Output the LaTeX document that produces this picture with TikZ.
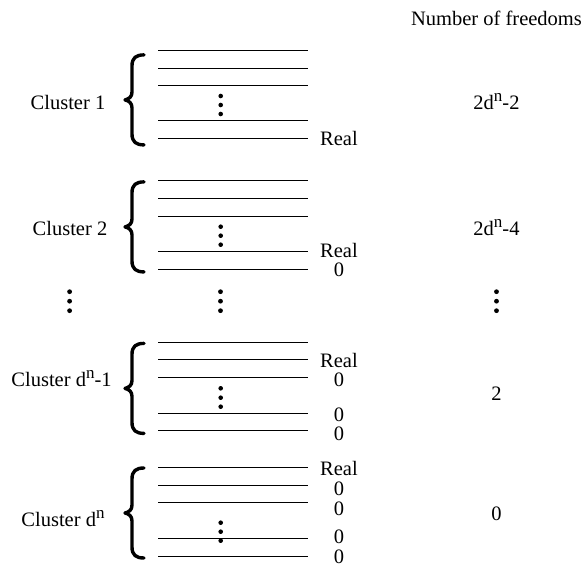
\documentclass[tikz,border=0pt]{standalone}
\usepackage{fontspec}
\setmainfont{Liberation Serif}
\newcommand\supn{\raisebox{8pt}{\fontsize{17}{17}\selectfont n}}
\tikzset{
  txt/.style={font=\fontsize{20.5}{24}\selectfont, inner sep=0pt, anchor=base},
  lvl/.style={line width=1pt},
  brc/.style={line width=3.4pt, line cap=round, line join=round},
  dotc/.style={fill=black},
  cbrace/.pic={
    \draw[brc] (19,-45) .. controls (11,-45) and (7,-42) .. (7,-34) -- (7,-8)
      .. controls (7,-3) and (4,-1) .. (0,0)
      .. controls (4,1) and (7,3) .. (7,8) -- (7,34)
      .. controls (7,42) and (11,45) .. (19,45);
  }
}
\begin{document}
\begin{tikzpicture}[x=1pt,y=-1pt]
\useasboundingbox (0,0) rectangle (584,567);

% header
\node[txt] (hdr) at (496.5,26) {Number of freedoms};

% cluster labels
\node[txt] (c1) at (68,110) {Cluster 1};
\node[txt] (c2) at (70,235) {Cluster 2};
\node[txt] (c3) at (61.5,386) {Cluster d\supn-1};
\node[txt] (c4) at (63,526.7) {Cluster d\supn};

% freedoms
\node[txt] (f1) at (496.5,110) {2d\supn-2};
\node[txt] (f2) at (496.5,235) {2d\supn-4};
\node[txt] (f3) at (496.5,400) {2};
\node[txt] (f4) at (496.5,520.7) {0};

% braces
\pic at (125,99.9) {cbrace};
\pic at (125,226.9) {cbrace};
\pic at (125,388.4) {cbrace};
\pic at (125,513) {cbrace};

% level lines
\foreach \y in {51,68.7,86,121,139,
                181,198.7,216,251.7,269.3,
                342.3,359.7,377.5,413.2,430.8,
                467.3,485,502.8,538.3,556.7}
  \draw[lvl] (158,\y) -- (308,\y);

% in-cluster dots
\foreach \y in {96,105,114, 226.7,235.7,244.7, 388.3,397.7,406.7, 522.7,531.7,540.7}
  \fill[dotc] (220.7,\y) circle (2.3);

% between-cluster dots
\foreach \x in {69.6,220.5,496.5}
  \foreach \y in {291.7,301.2,310.7}
    \fill[dotc] (\x,\y) circle (2.4);

% line labels
\node[txt] (r1) at (339,146) {Real};
\node[txt] (r2) at (339,257.3) {Real};
\node[txt] (z2) at (339,276.7) {0};
\node[txt] (r3) at (339,367.3) {Real};
\node[txt] (z3a) at (339,386) {0};
\node[txt] (z3b) at (339,421) {0};
\node[txt] (z3c) at (339,440) {0};
\node[txt] (r4) at (339,475) {Real};
\node[txt] (z4a) at (339,495) {0};
\node[txt] (z4b) at (339,515) {0};
\node[txt] (z4c) at (339,543) {0};
\node[txt] (z4d) at (339,563) {0};
\end{tikzpicture}
\end{document}
